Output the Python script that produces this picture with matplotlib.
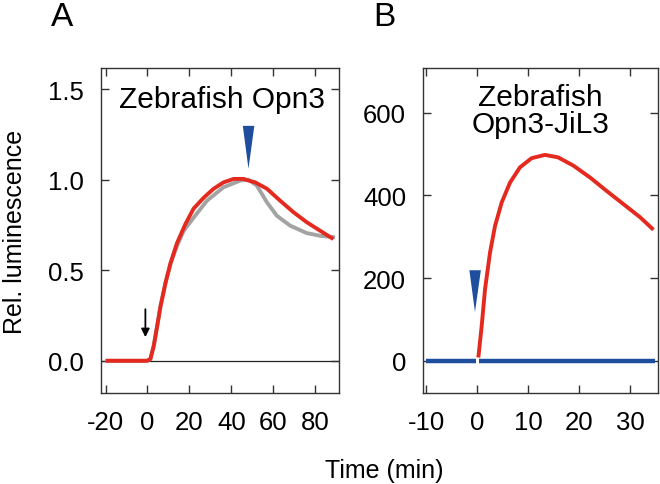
import matplotlib
matplotlib.use("Agg")
import matplotlib.pyplot as plt
from matplotlib.patches import Polygon

plt.rcParams['font.family'] = ['Liberation Sans', 'DejaVu Sans']

# Panel A data
a_red_x = [-20, -0.15, 1.4, 3.0, 4.6, 6.2, 8.6, 11.0, 14.1, 18.1, 22.0, 26.8, 31.6, 36.3,
           41.1, 45.9, 48.2, 51.4, 57, 63.3, 69.7, 76, 82.4, 88.7]
a_red_y = [0, 0, 0.01, 0.083, 0.19, 0.30, 0.43, 0.54, 0.65, 0.755, 0.84, 0.90, 0.95, 0.985,
           1.004, 1.004, 0.995, 0.985, 0.95, 0.884, 0.82, 0.765, 0.718, 0.672]
a_gray_x = [-20, -0.15, 1.4, 3.0, 4.6, 6.2, 8.6, 11.0, 14.1, 17.3, 22.0, 28.4, 36.3, 44.3,
            48.2, 52.2, 57, 61.8, 68.1, 76, 82.4, 89.5]
a_gray_y = [0, 0, 0.01, 0.083, 0.19, 0.30, 0.43, 0.535, 0.635, 0.718, 0.79, 0.884, 0.958, 0.995,
            1.0, 0.967, 0.875, 0.80, 0.746, 0.705, 0.69, 0.682]
a_xticks = [-20, 0, 20, 40, 60, 80]
a_yticks = [0.0, 0.5, 1.0, 1.5]

# Panel B data
b_red_x = [0.26, 0.92, 1.57, 2.55, 3.53, 4.84, 6.47, 8.43, 10.7, 13.3, 15.9, 18.9, 22.2,
           25.4, 28.7, 32, 34.6]
b_red_y = [8, 85, 173, 262, 326, 383, 431, 468, 490, 498, 492, 472, 443, 411, 379, 347, 317]
b_blue_x1 = [-10, -0.25]
b_blue_x2 = [0.35, 35]
b_blue_y = [0, 0]
b_xticks = [-10, 0, 10, 20, 30]
b_yticks = [0, 200, 400, 600]

RED = '#e42a1f'
GRAY = '#a3a3a3'
BLUE = '#1f4e9f'
SPINE = '#333333'

fig = plt.figure(figsize=(6.6, 4.85), dpi=100)
axA = fig.add_axes([0.153, 0.1876, 0.3606, 0.670])
axB = fig.add_axes([0.6405, 0.1876, 0.3565, 0.670])

def style(ax):
    for s in ax.spines.values():
        s.set_color(SPINE)
        s.set_linewidth(1.0)
    ax.tick_params(direction='in', length=6, width=1.0, color=SPINE,
                   top=True, right=True, labelsize=18.5, pad=12)

# Panel A
axA.axhline(0, color='#222222', lw=0.9, zorder=1)
axA.plot(a_gray_x, a_gray_y, color=GRAY, lw=2.8, solid_capstyle='butt', solid_joinstyle='round', zorder=2)
axA.plot(a_red_x, a_red_y, color=RED, lw=2.8, solid_capstyle='butt', solid_joinstyle='round', zorder=3)
axA.set_xlim(-22.2, 91.4)
axA.set_ylim(-0.178, 1.616)
axA.set_xticks(a_xticks)
axA.set_xticklabels([str(v) for v in a_xticks])
axA.set_yticks(a_yticks)
axA.set_yticklabels(['%.1f' % v for v in a_yticks])
style(axA)
axA.text(0.51, 0.905, 'Zebrafish Opn3', transform=axA.transAxes, ha='center', va='center', fontsize=21.5)
axA.add_patch(Polygon([[45.5, 1.297], [51.0, 1.297], [48.2, 1.06]], closed=True, color=BLUE, lw=0, zorder=4))
axA.annotate('', xy=(-1, 0.115), xytext=(-1, 0.30),
             arrowprops=dict(arrowstyle='-|>', color='black', lw=1.3, mutation_scale=12))
axA.set_ylabel('Rel. luminescence', fontsize=18)
axA.yaxis.set_label_coords(-0.31, 0.5)

# Panel B
axB.plot(b_blue_x1, b_blue_y, color=BLUE, lw=3.2, solid_capstyle='butt', zorder=2)
axB.plot(b_blue_x2, b_blue_y, color=BLUE, lw=3.2, solid_capstyle='butt', zorder=2)
axB.plot(b_red_x, b_red_y, color=RED, lw=2.8, solid_capstyle='butt', solid_joinstyle='round', zorder=3)
axB.set_xlim(-10.65, 35.5)
axB.set_ylim(-78, 708)
axB.set_xticks(b_xticks)
axB.set_xticklabels([str(v) for v in b_xticks])
axB.set_yticks(b_yticks)
axB.set_yticklabels([str(v) for v in b_yticks])
style(axB)
axB.text(0.50, 0.869, 'Zebrafish\nOpn3-JiL3', transform=axB.transAxes, ha='center', va='center',
         fontsize=21.5, linespacing=0.97)
axB.add_patch(Polygon([[-1.5, 219], [0.75, 219], [-0.4, 118]], closed=True, color=BLUE, lw=0, zorder=4))

fig.text(62 / 660, 1 - 18 / 485, 'A', fontsize=24, ha='center', va='center')
fig.text(384 / 660, 1 - 18 / 485, 'B', fontsize=24, ha='center', va='center')
fig.text(384 / 660, 1 - 471 / 485, 'Time (min)', fontsize=18, ha='center', va='center')

fig.savefig('out.png', dpi=100)
